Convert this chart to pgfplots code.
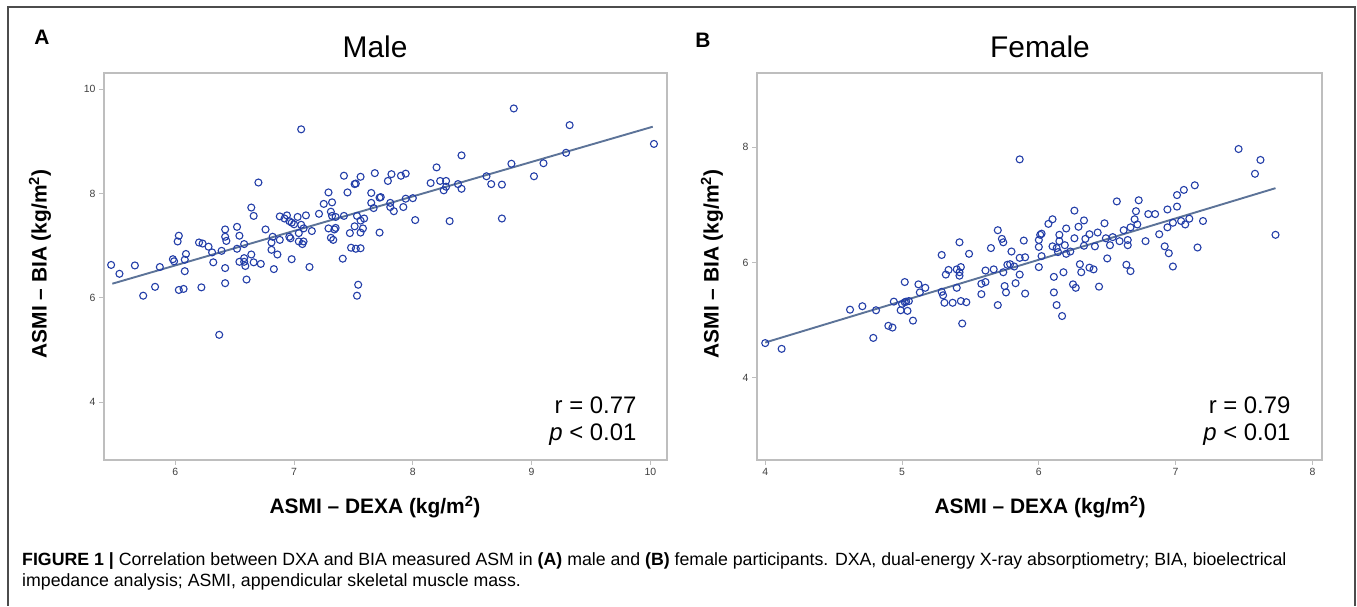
\documentclass[border=0pt]{standalone}
\usepackage{fontspec}
\setmainfont{Liberation Sans}
\usepackage{pgfplots}
\pgfplotsset{compat=1.18}
\definecolor{mk}{RGB}{35,62,168}
\definecolor{fit}{RGB}{92,115,152}
\definecolor{fr}{RGB}{190,190,190}
\pgfplotsset{
  myax/.style={
    scale only axis, anchor=south west,
    axis line style={fr, line width=1.2bp},
    tick style={fr, line width=1bp},
    tick align=outside, major tick length=5bp, tick pos=left,
    ticklabel style={font=\fontsize{10.5}{12}\selectfont, color=black!75},
    /pgf/number format/assume math mode=true,
    clip=false,
  },
  pts/.style={only marks, mark=o, mark size=3.5bp, mark options={mk, line width=1.1bp}},
  fitl/.style={fit, line width=1.9bp, no marks},
}
\begin{document}
\begin{tikzpicture}[x=1bp,y=1bp]
\path (0,0) rectangle (1357,606);
\draw[line width=1.6bp, black!70] (8,0) -- (8,599) -- (1355,599) -- (1355,0);
\coordinate (mA) at (104,146);
\coordinate (mB) at (757,146);

\begin{axis}[myax, at={(mA)}, width=563bp, height=387bp,
  xmin=5.40, xmax=10.14, ymin=2.89, ymax=10.31,
  xtick={6,7,8,9,10}, ytick={4,6,8,10}]
\addplot[pts] table {
x y
7.06 9.23
6.70 8.21
7.42 8.34
7.56 8.32
7.68 8.39
7.51 8.18
7.52 8.19
7.29 8.02
7.45 8.02
7.65 8.01
6.64 7.73
6.66 7.57
7.25 7.80
7.32 7.83
7.72 7.92
7.21 7.61
7.31 7.65
7.32 7.57
7.35 7.55
7.42 7.57
7.53 7.57
7.56 7.48
7.59 7.52
7.67 7.72
7.51 7.37
7.58 7.33
7.56 7.25
7.47 7.24
7.72 7.25
7.29 7.33
7.34 7.31
7.35 7.34
7.31 7.15
7.33 7.11
7.10 7.58
7.03 7.55
6.88 7.56
6.92 7.52
6.94 7.58
6.96 7.47
6.98 7.44
7.00 7.41
7.06 7.40
7.08 7.33
6.76 7.31
6.82 7.17
6.88 7.11
6.96 7.17
6.97 7.14
7.04 7.24
7.04 7.08
7.08 7.08
7.07 7.03
7.15 7.28
6.81 7.06
6.52 7.36
6.54 7.19
6.42 7.31
6.42 7.17
6.43 7.09
6.58 7.03
6.20 7.06
6.23 7.04
6.28 6.98
6.03 7.19
6.02 7.08
6.09 6.84
6.31 6.87
6.39 6.90
6.52 6.94
6.64 6.83
5.98 6.74
5.99 6.70
6.98 6.74
7.41 6.75
5.46 6.63
5.53 6.46
5.66 6.62
5.73 6.04
5.83 6.21
5.87 6.59
6.08 6.73
6.08 6.51
6.03 6.15
6.07 6.17
6.22 6.20
6.32 6.68
6.42 6.57
6.42 6.28
6.37 5.29
6.54 6.69
6.58 6.76
6.58 6.69
6.59 6.61
6.60 6.35
6.66 6.68
6.72 6.65
6.81 6.92
6.86 6.83
6.83 6.55
7.13 6.59
7.48 6.96
7.52 6.94
7.56 6.95
7.54 6.25
7.53 6.04
8.85 9.63
9.32 9.31
10.03 8.95
9.29 8.78
9.10 8.58
9.02 8.33
8.83 8.57
8.75 8.17
8.66 8.18
8.62 8.33
8.75 7.52
8.41 8.73
8.38 8.18
8.41 8.09
8.31 7.47
8.20 8.50
8.15 8.20
8.23 8.24
8.28 8.24
8.28 8.13
8.26 8.06
8.02 7.49
8.00 7.91
7.94 7.90
7.92 7.74
7.94 8.38
7.90 8.34
7.82 8.37
7.79 8.24
7.73 7.93
7.81 7.82
7.81 7.74
7.84 7.66
7.65 7.82
};
\addplot[fitl] coordinates {(5.47,6.27) (10.02,9.28)};
\end{axis}

\begin{axis}[myax, at={(mB)}, width=565bp, height=387bp,
  xmin=3.94, xmax=8.07, ymin=2.57, ymax=9.29,
  xtick={4,5,6,7,8}, ytick={4,6,8}]
\addplot[pts] table {
x y
5.86 7.79
5.70 6.56
5.73 6.41
5.74 6.35
5.89 6.38
5.65 6.25
5.80 6.19
5.42 6.35
5.49 6.15
5.29 6.13
5.86 6.08
5.90 6.09
5.77 5.96
5.79 5.97
5.82 5.93
5.67 5.88
5.61 5.86
5.74 5.83
5.86 5.79
5.40 5.88
5.43 5.92
5.42 5.83
5.42 5.77
5.34 5.87
5.32 5.79
5.40 5.56
5.02 5.66
5.12 5.62
5.17 5.56
5.13 5.48
5.29 5.49
5.30 5.43
5.31 5.30
5.37 5.30
5.43 5.33
5.47 5.31
5.58 5.63
5.61 5.66
5.58 5.45
5.75 5.59
5.76 5.48
5.83 5.64
5.90 5.46
5.70 5.26
5.44 4.94
4.94 5.32
5.00 5.28
5.02 5.31
5.03 5.32
5.05 5.33
4.99 5.17
5.04 5.16
5.08 4.99
4.81 5.17
4.71 5.24
4.62 5.18
4.90 4.90
4.93 4.87
4.79 4.69
4.00 4.60
4.12 4.50
7.46 7.97
7.62 7.78
7.58 7.54
7.73 6.48
7.14 7.34
7.06 7.26
7.01 7.17
7.01 6.97
6.94 6.92
7.20 6.72
7.10 6.76
7.07 6.66
7.04 6.72
6.98 6.69
6.94 6.61
7.16 6.26
6.88 6.49
6.92 6.28
6.95 6.16
6.98 5.93
6.78 6.37
6.80 6.84
6.85 6.84
6.73 7.08
6.71 6.89
6.70 6.75
6.72 6.66
6.67 6.61
6.62 6.56
6.57 7.06
6.65 6.39
6.65 6.30
6.59 6.37
6.54 6.44
6.52 6.30
6.48 6.68
6.49 6.42
6.64 5.96
6.67 5.85
6.50 6.07
6.44 5.58
6.43 6.52
6.37 6.49
6.33 6.73
6.29 6.62
6.26 6.90
6.41 6.28
6.33 6.29
6.34 6.41
6.26 6.42
6.20 6.59
6.19 6.30
6.15 6.48
6.15 6.37
6.13 6.25
6.10 6.28
6.23 6.19
6.20 6.15
6.14 6.18
6.07 6.67
6.10 6.75
6.02 6.50
6.01 6.48
6.00 6.39
6.00 6.27
6.02 6.11
6.00 5.92
6.11 5.75
6.18 5.83
6.11 5.48
6.13 5.26
6.17 5.07
6.30 5.97
6.31 5.83
6.37 5.91
6.40 5.88
6.25 5.62
6.27 5.56
};
\addplot[fitl] coordinates {(4.00,4.61) (7.73,7.29)};
\end{axis}

% panel letters and titles
\node[font=\fontsize{21}{24}\selectfont\bfseries] at (42,569) {A};
\node[font=\fontsize{21}{24}\selectfont\bfseries] at (703,566) {B};
\node[font=\fontsize{30}{34}\selectfont] at (375,559) {Male};
\node[font=\fontsize{30}{34}\selectfont] at (1040,559) {Female};
% axis labels
\node[font=\fontsize{21}{24}\selectfont\bfseries, rotate=90] at (40,342) {ASMI – BIA (kg/m\textsuperscript{2})};
\node[font=\fontsize{21}{24}\selectfont\bfseries, rotate=90] at (712,342) {ASMI – BIA (kg/m\textsuperscript{2})};
\node[font=\fontsize{21}{24}\selectfont\bfseries] at (375,99) {ASMI – DEXA (kg/m\textsuperscript{2})};
\node[font=\fontsize{21}{24}\selectfont\bfseries] at (1040,99) {ASMI – DEXA (kg/m\textsuperscript{2})};
% stats
\node[font=\fontsize{24}{28}\selectfont, anchor=east] at (640,201) {r = 0.77};
\node[font=\fontsize{24}{28}\selectfont, anchor=east] at (640,171) {\textit{p} < 0.01};
\node[font=\fontsize{24}{28}\selectfont, anchor=east] at (1294,201) {r = 0.79};
\node[font=\fontsize{24}{28}\selectfont, anchor=east] at (1294,171) {\textit{p} < 0.01};
% caption
\node[font=\fontsize{17.8}{21}\selectfont, anchor=base west, inner sep=0] at (22,40) {\textbf{FIGURE 1 |} Correlation between DXA and BIA measured ASM in \textbf{(A)} male and \textbf{(B)} female participants. DXA, dual-energy X-ray absorptiometry; BIA, bioelectrical};
\node[font=\fontsize{17.8}{21}\selectfont, anchor=base west, inner sep=0] at (22,19) {impedance analysis; ASMI, appendicular skeletal muscle mass.};
\end{tikzpicture}
\end{document}
